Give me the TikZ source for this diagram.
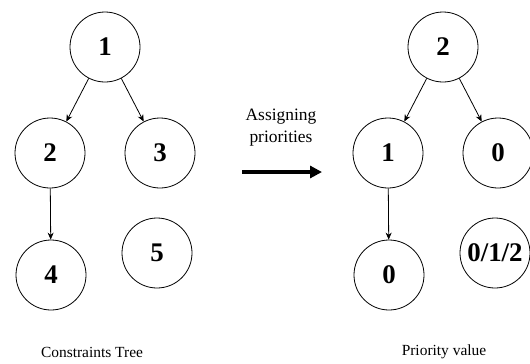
\documentclass[tikz,border=0pt]{standalone}
\usepackage{fontspec}
\setmainfont{Liberation Serif}
\usetikzlibrary{arrows.meta}
\begin{document}
\begin{tikzpicture}[x=1bp,y=-1bp,
  tnode/.style={circle,draw,line width=0.8bp,minimum size=70bp,inner sep=0pt,
    font=\fontsize{27}{27}\selectfont\bfseries},
  edge/.style={line width=0.8bp,-{Stealth[length=7bp,width=6bp]}},
  lbl/.style={font=\fontsize{17.5}{22}\selectfont,align=center},
  captxt/.style={font=\fontsize{15.5}{18}\selectfont}]
\useasboundingbox (0,0) rectangle (530,363);
% left tree
\node[tnode] (a1) at (105,47) {1};
\node[tnode] (a2) at (50,153) {2};
\node[tnode] (a3) at (160,153) {3};
\node[tnode] (a4) at (51,275) {4};
\node[tnode] (a5) at (157,253) {5};
\draw[edge] (a1) -- (a2);
\draw[edge] (a1) -- (a3);
\draw[edge] (a2) -- (a4);
% right tree
\node[tnode] (b1) at (443,47) {2};
\node[tnode] (b2) at (388,153) {1};
\node[tnode] (b3) at (498,153) {0};
\node[tnode] (b4) at (389,275) {0};
\node[tnode] (b5) at (495,253) {0/1/2};
\draw[edge] (b1) -- (b2);
\draw[edge] (b1) -- (b3);
\draw[edge] (b2) -- (b4);
% middle arrow
\coordinate (s) at (242,172);
\coordinate (t) at (322,172);
\draw[line width=3.5bp,-{Triangle[length=12bp,width=12bp]}] (s) -- (t);
\node[lbl] (assign) at (281,128) {Assigning\\priorities};
% captions
\node[captxt] (capL) at (92,352) {Constraints Tree};
\node[captxt] (capR) at (444,352) {Priority value};
\end{tikzpicture}
\end{document}
